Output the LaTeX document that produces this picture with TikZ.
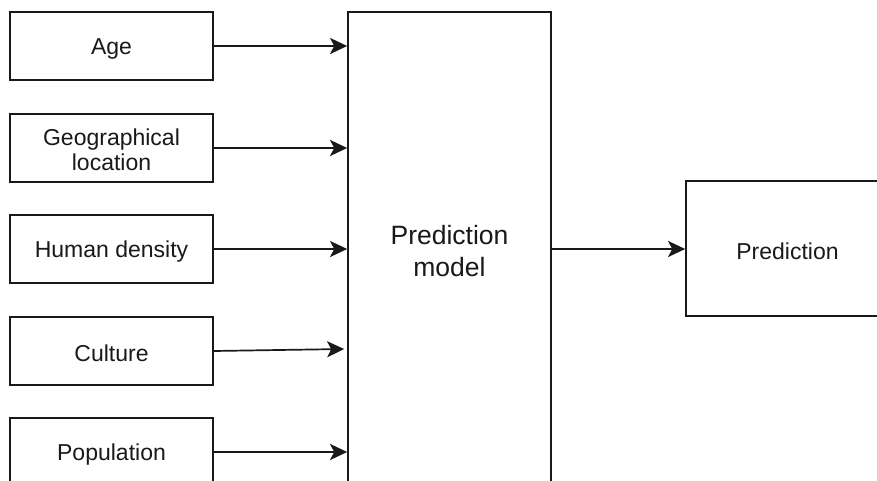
\documentclass[tikz,border=0pt]{standalone}
\usepackage{fontspec}
\setmainfont{Liberation Sans}
\usetikzlibrary{arrows.meta}
\begin{document}
\begin{tikzpicture}[x=1pt,y=-1pt,
  inbox/.style={draw=black!90,line width=1.7pt,minimum width=203pt,minimum height=68pt,
    align=center,inner sep=0pt,fill=white},
  lbl/.style={font=\fontsize{23}{25}\selectfont,align=center,text=black!90},
  conn/.style={draw=black!90,line width=1.7pt,-{Stealth[length=17pt,width=16pt,inset=4pt]}}]
\useasboundingbox (0,0) rectangle (877,481);
\clip (0,0) rectangle (877,481);
\fill[white] (0,0) rectangle (877,481);
\node[inbox] (age) at (111.5,46) {};
\node[inbox] (geo) at (111.5,148) {};
\node[inbox] (hum) at (111.5,249) {};
\node[inbox] (cul) at (111.5,351) {};
\node[inbox] (pop) at (111.5,452) {};
\node[lbl] (agetext) at (111.5,49) {Age};
\node[lbl] (geotext) at (111.5,150) {Geographical\\location};
\node[lbl] (humtext) at (111.5,251.5) {Human density};
\node[lbl] (cultext) at (111.5,353.5) {Culture};
\node[lbl] (poptext) at (111.5,454.5) {Population};
\node[inbox,minimum height=500pt] (model) at (449.5,262) {};
\node[lbl,font=\fontsize{26.5}{32}\selectfont] (mtext) at (449.5,251) {Prediction\\model};
\node[inbox,minimum height=135pt] (pred) at (787.5,248.5) {};
\node[lbl] (predtext) at (787.5,251.5) {Prediction};
\draw[conn] (age.east) -- (age.east -| model.west);
\draw[conn] (geo.east) -- (geo.east -| model.west);
\draw[conn] (hum.east) -- (hum.east -| model.west);
\draw[conn] (cul.east) -- ([xshift=-3pt,yshift=2pt]cul.east -| model.west);
\draw[conn] (pop.east) -- (pop.east -| model.west);
\draw[conn] ([yshift=-0.5pt]model.east |- pred.west) -- ([yshift=-0.5pt]pred.west);
\end{tikzpicture}
\end{document}
